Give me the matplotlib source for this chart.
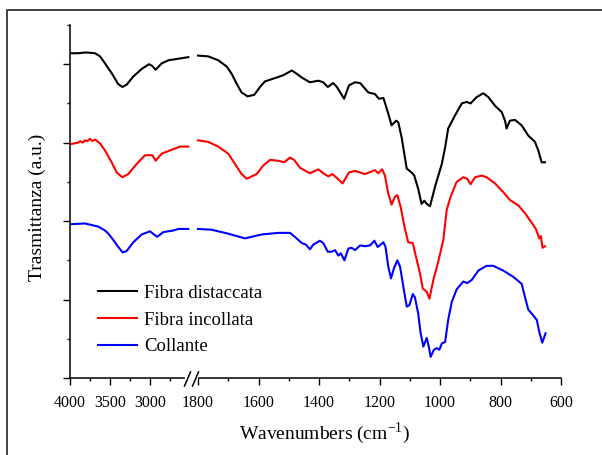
import numpy as np
import matplotlib
matplotlib.use("Agg")
import matplotlib.pyplot as plt
from matplotlib.lines import Line2D

# spettri FTIR: tratto alto (4000-2500) e tratto basso (1800-650)
wn_hi_dist = [4000, 3900, 3800, 3687, 3625, 3562, 3475, 3400, 3346, 3291, 3212, 3104, 3012, 2975, 2929, 2854, 2771, 2646, 2521]
tr_hi_dist = [4.14, 4.14, 4.15, 4.14, 4.10, 4.01, 3.88, 3.75, 3.71, 3.74, 3.84, 3.94, 4.00, 3.98, 3.93, 4.01, 4.05, 4.07, 4.09]
wn_lo_dist = [1800, 1766, 1733, 1705, 1689, 1672, 1656, 1636, 1614, 1595, 1579, 1556, 1540, 1518, 1490, 1474, 1457, 1430, 1402, 1386,
              1371, 1353, 1341, 1317, 1301, 1281, 1264, 1237, 1215, 1202, 1187, 1171, 1160, 1145, 1138, 1127, 1110, 1094, 1085, 1072,
              1061, 1052, 1044, 1033, 1017, 994, 983, 973, 950, 928, 912, 899, 879, 857, 840, 818, 796, 785, 780, 769,
              752, 730, 708, 686, 675, 664, 653]
tr_lo_dist = [4.11, 4.10, 4.05, 3.97, 3.88, 3.75, 3.64, 3.59, 3.61, 3.71, 3.78, 3.81, 3.83, 3.86, 3.92, 3.88, 3.83, 3.77, 3.79, 3.77,
              3.71, 3.76, 3.71, 3.56, 3.73, 3.77, 3.76, 3.64, 3.62, 3.56, 3.57, 3.37, 3.22, 3.28, 3.26, 3.07, 2.67, 2.62, 2.58, 2.41,
              2.22, 2.26, 2.22, 2.19, 2.43, 2.73, 2.94, 3.18, 3.35, 3.50, 3.52, 3.50, 3.58, 3.63, 3.58, 3.47, 3.39, 3.28, 3.18, 3.28,
              3.29, 3.22, 3.09, 3.01, 2.90, 2.75, 2.75]

wn_hi_inc = [4000, 3950, 3900, 3870, 3840, 3812, 3780, 3750, 3720, 3687, 3660, 3625, 3562, 3479, 3416, 3346, 3271, 3166, 3062, 2971,
             2929, 2854, 2729, 2625, 2521]
tr_hi_inc = [2.98, 2.99, 3.00, 3.02, 3.00, 3.03, 3.02, 3.05, 3.02, 3.04, 3.02, 2.99, 2.90, 2.75, 2.62, 2.56, 2.60, 2.73, 2.84, 2.84,
             2.77, 2.86, 2.91, 2.95, 2.95]
wn_lo_inc = [1800, 1766, 1733, 1700, 1678, 1656, 1639, 1606, 1584, 1562, 1535, 1515, 1496, 1482, 1463, 1430, 1402, 1386, 1369, 1356,
             1338, 1322, 1301, 1281, 1248, 1215, 1204, 1191, 1182, 1171, 1160, 1149, 1141, 1130, 1116, 1105, 1090, 1079, 1066, 1057,
             1044, 1035, 1022, 1006, 989, 978, 965, 945, 923, 910, 899, 884, 862, 846, 818, 791, 769, 741, 719, 697,
             683, 672, 667, 661, 653]
tr_lo_inc = [3.03, 3.01, 2.95, 2.86, 2.73, 2.60, 2.54, 2.60, 2.71, 2.78, 2.77, 2.75, 2.81, 2.78, 2.68, 2.61, 2.66, 2.61, 2.57, 2.60,
             2.54, 2.48, 2.62, 2.64, 2.60, 2.65, 2.61, 2.66, 2.58, 2.35, 2.21, 2.31, 2.33, 2.18, 1.90, 1.73, 1.72, 1.54, 1.33, 1.14,
             1.10, 1.01, 1.25, 1.48, 1.76, 2.14, 2.31, 2.50, 2.56, 2.54, 2.47, 2.56, 2.58, 2.56, 2.48, 2.37, 2.27, 2.20, 2.10, 1.98,
             1.90, 1.78, 1.81, 1.66, 1.68]

wn_hi_coll = [4000, 3812, 3646, 3562, 3521, 3459, 3396, 3341, 3291, 3209, 3104, 3000, 2950, 2909, 2834, 2709, 2646, 2521]
tr_hi_coll = [1.96, 1.97, 1.93, 1.88, 1.84, 1.76, 1.67, 1.60, 1.62, 1.73, 1.83, 1.87, 1.83, 1.80, 1.86, 1.88, 1.90, 1.90]
wn_lo_coll = [1800, 1755, 1700, 1645, 1589, 1535, 1496, 1474, 1457, 1443, 1430, 1419, 1397, 1386, 1371, 1358, 1347, 1336, 1328, 1316,
              1303, 1292, 1281, 1264, 1248, 1231, 1217, 1206, 1187, 1180, 1171, 1162, 1152, 1141, 1132, 1121, 1110, 1101, 1090, 1083,
              1072, 1064, 1055, 1044, 1037, 1031, 1020, 1011, 1002, 994, 983, 973, 961, 945, 923, 910, 895, 873, 846, 824,
              791, 758, 730, 719, 708, 692, 680, 672, 662, 651]
tr_lo_coll = [1.90, 1.89, 1.84, 1.78, 1.83, 1.85, 1.85, 1.78, 1.72, 1.70, 1.64, 1.70, 1.75, 1.72, 1.61, 1.61, 1.63, 1.56, 1.59, 1.50,
              1.65, 1.66, 1.63, 1.69, 1.68, 1.69, 1.75, 1.67, 1.73, 1.67, 1.42, 1.27, 1.40, 1.50, 1.42, 1.16, 0.91, 0.93, 1.07, 1.03,
              0.82, 0.57, 0.40, 0.51, 0.40, 0.27, 0.36, 0.38, 0.36, 0.44, 0.46, 0.74, 0.97, 1.13, 1.23, 1.21, 1.25, 1.37, 1.43, 1.43,
              1.37, 1.29, 1.20, 1.03, 0.87, 0.80, 0.74, 0.59, 0.45, 0.57]

labels = ["Fibra distaccata", "Fibra incollata", "Collante"]
colors = ["#000000", "#ff0000", "#0000ff"]
xticks_major = [4000, 3500, 3000, 1800, 1600, 1400, 1200, 1000, 800, 600]
xticks_minor = [3750, 3250, 2750, 1700, 1500, 1300, 1100, 900, 700]

plt.rcParams['font.family'] = ['Liberation Serif', 'DejaVu Serif']
plt.rcParams['mathtext.fontset'] = 'custom'
plt.rcParams['mathtext.rm'] = 'Liberation Serif'

W, H = 602, 455


def px(x, y):
    # pixel -> coordinate figura
    return x / W, 1 - y / H


# asse x spezzato: 4000-2500 compresso, 1800-600 esteso
brk_wn = [600, 1800, 2500, 4000]
brk_u = [0, 363, 371, 491]


def fwd(w):
    return np.interp(w, brk_wn, brk_u)


def inv(u):
    return np.interp(u, brk_u, brk_wn)


fig = plt.figure(figsize=(W / 100, H / 100), dpi=100)
ax = fig.add_axes([70 / W, 1 - 378 / H, (561 - 70) / W, (378 - 25) / H])
ax.set_xscale('function', functions=(fwd, inv))

series = [(wn_hi_dist, tr_hi_dist, wn_lo_dist, tr_lo_dist),
          (wn_hi_inc, tr_hi_inc, wn_lo_inc, tr_lo_inc),
          (wn_hi_coll, tr_hi_coll, wn_lo_coll, tr_lo_coll)]
handles = []
for (wh, th, wl, tl), lab, c in zip(series, labels, colors):
    h, = ax.plot(wh, th, color=c, lw=1.5, label=lab)
    ax.plot(wl, tl, color=c, lw=1.5)
    handles.append(h)

ax.set_xlim(4000, 600)
ax.set_ylim(0, 4.5)
ax.set_xticks(xticks_major)
ax.set_xticklabels([str(t) for t in xticks_major])
ax.set_xticks(xticks_minor, minor=True)
ax.set_yticks([0, 1, 2, 3, 4])
ax.set_yticks([0.5, 1.5, 2.5, 3.5, 4.5], minor=True)
ax.tick_params(which='major', direction='out', length=5, width=1, labelsize=11.5, pad=7)
ax.tick_params(which='minor', direction='out', length=2.5, width=1)
ax.tick_params(axis='y', labelleft=False)
for s in ['top', 'right']:
    ax.spines[s].set_visible(False)
for s in ['left', 'bottom']:
    ax.spines[s].set_linewidth(1.1)

# segno di interruzione //
fig.add_artist(Line2D([px(187, 0)[0], px(196, 0)[0]], [px(0, 378)[1]] * 2, color='white', lw=3, zorder=5))
for x0 in [184.5, 192.5]:
    fig.add_artist(Line2D([px(x0, 0)[0], px(x0 + 6, 0)[0]], [px(0, 386)[1], px(0, 372)[1]],
                          color='black', lw=1.1, zorder=6))

ax.legend(handles=handles, loc='center left', bbox_to_anchor=px(98, 320), bbox_transform=fig.transFigure,
          frameon=False, fontsize=13.5, handlelength=2.1, handletextpad=0.35, labelspacing=0.52,
          borderpad=0, borderaxespad=0)

fig.text(*px(324, 433), 'Wavenumbers (cm$^{\\mathregular{-1}}$)', fontsize=14, ha='center', va='center')
fig.text(*px(37, 207), 'Trasmittanza (a.u.)', fontsize=14, ha='center', va='center', rotation=90)

# cornice esterna
fig.add_artist(Line2D([px(7, 0)[0], px(7, 0)[0], 1.0], [0.0, px(0, 9.5)[1], px(0, 9.5)[1]],
                      color='#333333', lw=1.3))

fig.savefig('out.png', dpi=100)
